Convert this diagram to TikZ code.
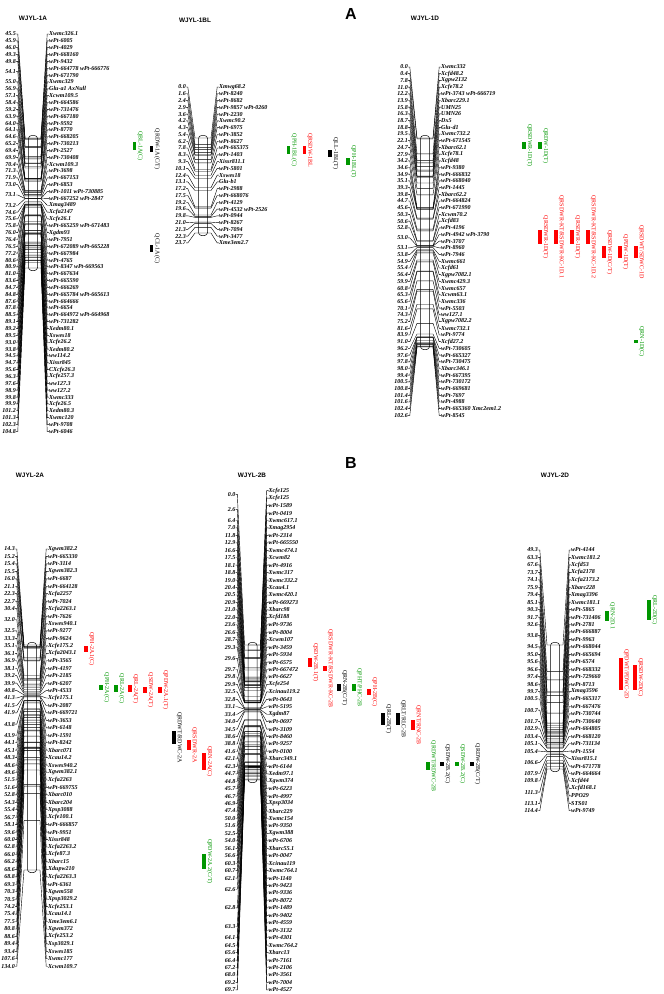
\documentclass[tikz,border=0pt]{standalone}
\usepackage{fontspec}
\setmainfont{Liberation Serif}
\setsansfont{Liberation Sans}
\usetikzlibrary{positioning}

\definecolor{qgreen}{RGB}{0,150,0}
\definecolor{qred}{RGB}{255,0,0}

\tikzset{
  cmlab/.style={font=\fontsize{6}{6}\selectfont\bfseries\itshape, anchor=east, inner sep=0pt},
  mklab/.style={font=\fontsize{6}{6}\selectfont\bfseries\itshape, anchor=west, inner sep=0pt},
  fan/.style={line width=0.42pt},
  chrom/.style={draw, fill=white, line width=0.5pt, rounded corners=3pt},
  ttl/.style={font=\sffamily\bfseries\fontsize{6.4}{6.4}\selectfont, inner sep=0pt},
  panel/.style={font=\sffamily\bfseries\fontsize{16}{16}\selectfont, inner sep=0pt},
  qtl/.style={font=\fontsize{6}{6}\selectfont, rotate=-90, anchor=south, inner sep=0.6pt},
}

% #1 id, #2 bar x, #3 first row y, #4 row step, #5 bar top, #6 bar bottom,
% #7 first cM, #8 last cM, #9 rows cM/left shift/marker
\newcommand{\chrmap}[9]{%
  \draw[chrom] (#2-4.5,#5-2.5) rectangle (#2+4.5,#6+2.5);
  \foreach \p/\s/\n [count=\i from 0] in {#9}{
    \pgfmathsetmacro{\yl}{#3+\i*#4}
    \pgfmathsetmacro{\yb}{#5+(\p-#7)/(#8-#7)*(#6-#5)}
    \node[mklab] (#1n\i) at (#2+16,\yl) {\n};
    \coordinate (#1b\i) at (#2+4.5,\yb);
    \draw[fan] (#1n\i.west) -- ++(-1.8,0) -- (#2+8,\yb) -- (#1b\i) -- ++(-9,0);
    \ifnum\s<9
      \pgfmathsetmacro{\yp}{\yl+\s*#4/2}
      \node[cmlab] (#1p\i) at (#2-17,\yp) {\p};
      \draw[fan] (#1p\i.east) -- ++(1.8,0) -- (#2-8,\yb) -- (#2-4.5,\yb);
    \fi
  }
}

% #1 id, #2 x, #3 top, #4 bottom, #5 colour, #6 label
\newcommand{\qtlbar}[6]{%
  \fill[#5] (#2-1.6,#3) rectangle (#2+1.6,#4);
  \node[qtl, text=#5] (#1) at (#2+2,{(#3+#4)/2}) {#6};
}

\begin{document}
\begin{tikzpicture}[x=1pt, y=-1pt]
  \useasboundingbox (0,0) rectangle (664,994);

  % --- Pannelli e titoli ---
  \node[panel] (pA) at (351,14) {A};
  \node[panel] (pB) at (351,463) {B};
  \node[ttl] (t1A) at (33,18) {WJYL-1A};
  \node[ttl] (t1BL) at (195,20) {WJYL-1BL};
  \node[ttl] (t1D) at (425,18) {WJYL-1D};
  \node[ttl] (t2A) at (30,475) {WJYL-2A};
  \node[ttl] (t2B) at (252,475) {WJYL-2B};
  \node[ttl] (t2D) at (555,475) {WJYL-2D};

  % --- WJYL-1A ---
  \chrmap{a}{33}{34}{6.85}{138}{268}{45.5}{104.8}{
    45.5/0/Xwmc326.1, 45.9/0/wPt-6005, 46.0/0/wPt-4029, 49.3/0/wPt-668160,
    49.8/0/wPt-9432, 54.1/1/{wPt-664778 wPt-666776}, 54.1/9/wPt-671790,
    55.0/0/Xwmc329, 56.9/0/{Glu-a1 AxNull}, 57.1/0/Xcwm109.5, 58.4/0/wPt-664586,
    59.2/0/wPt-731476, 63.9/0/wPt-667180, 64.0/0/wPt-9592, 64.1/0/wPt-8770,
    64.6/0/wPt-668205, 65.2/0/wPt-730213, 69.4/0/wPt-2527, 69.9/0/wPt-730408,
    70.4/0/Xcwm109.3, 71.3/0/wPt-3698, 71.9/0/wPt-667153, 73.0/0/wPt-6853,
    73.1/1/{wPt-1011 wPt-730885}, 73.1/9/{wPt-667252 wPt-2847}, 73.2/0/Xmag3489,
    74.6/0/Xcfa2147, 75.6/0/Xcfe26.1, 75.8/0/{wPt-665259 wPt-671483},
    76.0/0/Xgdm93, 76.4/0/wPt-7951, 76.5/0/{wPt-672089 wPt-665228},
    77.2/0/wPt-667984, 80.6/0/wPt-4765, 80.9/0/{wPt-8347 wPt-669563},
    81.0/0/wPt-667634, 83.6/0/wPt-665590, 84.7/0/wPt-666269,
    84.8/0/{wPt-665784 wPt-665613}, 87.6/0/wPt-664666, 87.8/0/wPt-6654,
    88.5/0/{wPt-664972 wPt-664968}, 89.1/0/wPt-731282, 89.2/0/Xedm80.1,
    89.5/0/Xswes18, 93.0/0/Xcfe26.2, 93.8/0/Xedm80.2, 94.5/0/ww114.2,
    94.7/0/Xissr845, 95.6/0/CXcfe26.3, 96.3/0/Xcfe257.3, 97.6/0/ww127.3,
    98.9/0/ww127.2, 99.8/0/Xwmc333, 99.9/0/Xcfe26.5, 101.2/0/Xedm80.3,
    101.3/0/Xwmc120, 102.3/0/wPt-9708, 104.8/0/wPt-6046}

  % --- WJYL-1BL ---
  \chrmap{b}{203}{87}{6.78}{138}{233}{0}{23.7}{
    0.0/0/Xmwg68.2, 1.6/0/wPt-8240, 2.4/0/wPt-8682, 2.9/0/{wPt-9857 wPt-0260},
    3.6/0/wPt-2230, 4.2/0/Xwmc90.2, 4.3/0/wPt-6975, 5.4/0/wPt-3852,
    6.2/0/wPt-8627, 7.8/0/wPt-665375, 8.3/0/wPt-1403, 9.3/0/Xissr811.1,
    10.1/0/wPt-5801, 12.4/0/Xswes18, 13.1/0/Glu-b1, 17.2/0/wPt-2988,
    17.5/0/wPt-668076, 19.2/0/wPt-4129, 19.6/0/{wPt-4532 wPt-2526},
    19.8/0/wPt-0944, 21.0/0/wPt-8267, 21.3/0/wPt-7094, 22.3/0/wPt-3477,
    23.7/0/Xme3em2.7}

  % --- WJYL-1D ---
  \chrmap{d}{425}{67}{6.7}{138}{347}{0}{102.6}{
    0.0/0/Xwmc332, 0.4/0/Xcfd48.2, 7.8/0/Xgpw2132, 11.0/0/Xcfe78.2,
    12.2/0/{wPt-3743 wPt-666719}, 13.9/0/Xbarc229.1, 15.8/0/UMN25, 16.3/0/UMN26,
    18.7/0/Dx5, 18.8/0/Glu-d1, 19.5/0/Xwmc732.2, 22.1/0/wPt-671545,
    24.7/0/Xbarc62.1, 27.9/0/Xcfe78.1, 34.2/0/Xcfd48, 34.6/0/wPt-9380,
    34.9/0/wPt-666832, 35.1/0/wPt-668040, 39.3/0/wPt-1445, 39.8/0/Xbarc62.2,
    44.7/0/wPt-664824, 45.6/0/wPt-671990, 50.3/0/Xcwm70.2, 50.6/0/Xcfd83,
    52.8/0/wPt-4196, 53.0/1/{wPt-4942 wPt-3790}, 53.0/9/wPt-3707,
    53.1/0/wPt-8960, 53.8/0/wPt-7946, 54.9/0/Xwmc661, 55.4/0/Xcfd61,
    56.4/0/Xgpw7082.1, 59.9/0/Xwmc429.3, 60.8/0/Xwmc657, 65.3/0/Xcwm63.1,
    65.6/0/Xwmc336, 70.1/0/wPt-5503, 74.3/0/ww127.1, 75.2/0/Xgpw7082.2,
    81.6/0/Xwmc732.1, 83.9/0/wPt-9774, 91.0/0/Xcfd27.2, 96.2/0/wPt-730605,
    97.6/0/wPt-665327, 97.8/0/wPt-730475, 98.0/0/Xbarc346.1, 99.4/0/wPt-667395,
    100.5/0/wPt-730172, 100.8/0/wPt-669681, 101.4/0/wPt-7697, 101.6/0/wPt-4988,
    102.4/0/{wPt-665360 Xmc2em1.2}, 102.6/0/wPt-8545}

  % --- WJYL-2A ---
  \chrmap{e}{32}{549}{7.45}{645}{870}{14.3}{134.0}{
    14.3/0/Xgwm382.2, 15.2/0/wPt-665330, 15.4/0/wPt-3114, 15.5/0/Xgwm382.3,
    16.0/0/wPt-6687, 21.1/0/wPt-664128, 22.3/0/Xcfa2257, 22.7/0/wPt-7024,
    30.4/0/Xcfa2263.1, 32.0/1/wPt-7626, 32.0/9/Xswes940.1, 32.5/0/wPt-9277,
    33.3/0/wPt-9624, 35.1/0/Xcfe175.2, 36.1/0/Xcfa2043.1, 36.9/0/wPt-3565,
    38.1/0/wPt-4197, 39.2/0/wPt-2185, 39.9/0/wPt-6207, 40.8/0/wPt-4533,
    41.3/0/Xcfe175.1, 41.5/0/wPt-2087, 41.9/0/wPt-669721, 43.8/1/wPt-3653,
    43.8/9/wPt-6148, 43.9/0/wPt-1591, 44.1/0/wPt-8242, 45.1/0/Xbarc071,
    48.3/0/Xcau14.2, 48.6/0/Xswes940.2, 49.6/0/Xgwm382.1, 51.5/0/Xcfa2263,
    51.6/0/wPt-669755, 52.8/0/Xbarc010, 54.3/0/Xbarc204, 55.4/0/Xpsp3088,
    56.7/0/Xcfe100.1, 58.1/0/wPt-666857, 59.6/0/wPt-9951, 60.0/0/Xissr848,
    62.8/0/Xcfa2263.2, 66.0/0/Xcfe87.3, 66.2/0/Xbarc15, 68.6/0/Xdupw210,
    68.8/0/Xcfa2263.3, 69.3/0/wPt-6361, 70.3/0/Xgwm558, 70.5/0/Xpsp3029.2,
    74.2/0/Xcfe253.1, 75.4/0/Xcau14.1, 77.5/0/Xme3em6.1, 80.8/0/Xgwm372,
    88.6/0/Xcfe253.2, 89.4/0/Xsp3029.1, 93.4/0/Xswes185, 107.6/0/Xwmc177,
    134.0/0/Xcwm109.7}

  % --- WJYL-2B ---
  \chrmap{f}{252.5}{490.7}{7.45}{645}{780}{0}{69.7}{
    0.0/1/Xcfe125, 0.0/9/Xcfe125, 2.6/1/wPt-1589, 2.6/9/wPt-0419,
    6.4/0/Xwmc617.1, 7.0/0/Xmag2954, 11.8/0/wPt-2314, 12.9/0/wPt-665550,
    16.6/0/Xwmc474.1, 17.5/0/Xcwm82, 18.1/0/wPt-4916, 18.8/0/Xwmc317,
    19.0/0/Xwmc332.2, 20.4/0/Xcau4.1, 20.5/0/Xwmc420.1, 20.9/0/wPt-669273,
    21.0/0/Xbarc98, 22.0/0/Xcfd188, 23.6/0/wPt-9736, 26.6/0/wPt-8004,
    28.7/0/Xcwm107, 29.3/0/wPt-3459, 29.6/1/wPt-5934, 29.6/9/wPt-6575,
    29.7/0/wPt-667472, 29.8/0/wPt-6627, 29.9/0/Xcfe254, 32.5/0/Xcinau119.2,
    32.8/0/wPt-0643, 33.1/0/wPt-5195, 33.4/0/Xgdm87, 34.0/0/wPt-0697,
    34.5/0/wPt-3109, 38.6/0/wPt-8460, 38.8/0/wPt-9257, 41.6/0/wPt-0100,
    42.1/0/Xbarc349.1, 42.3/0/wPt-6144, 44.7/0/Xedm97.1, 44.8/0/Xgwm374,
    45.7/0/wPt-6223, 46.7/0/wPt-4997, 46.9/0/Xpsp3034, 47.4/0/Xbarc229,
    50.0/0/Xwmc154, 51.6/0/wPt-9350, 52.5/0/Xgwm388, 54.0/0/wPt-6706,
    56.1/0/Xbarc55.1, 56.6/0/wPt-0047, 60.3/0/Xcinau119, 60.7/0/Xwmc764.1,
    62.1/0/wPt-1140, 62.6/1/wPt-9423, 62.6/9/wPt-9336, 62.8/2/wPt-8072,
    62.8/9/wPt-1489, 62.8/9/wPt-9402, 63.3/1/wPt-4559, 63.3/9/wPt-3132,
    64.1/0/wPt-4301, 64.5/0/Xwmc764.2, 65.6/0/Xbarc13, 66.4/0/wPt-7161,
    67.2/0/wPt-2106, 68.0/0/wPt-3561, 69.2/0/wPt-7004, 69.7/0/wPt-4527}

  % --- WJYL-2D ---
  \chrmap{g}{555}{550}{7.45}{645}{769}{49.3}{114.4}{
    49.3/0/wPt-4144, 63.3/0/Xwmc181.2, 67.6/0/Xcfd53, 73.7/0/Xcfa2178,
    74.1/0/Xcfa2173.2, 75.9/0/Xbarc228, 79.4/0/Xmag3396, 85.1/0/Xwmc181.1,
    90.3/0/wPt-5865, 91.7/0/wPt-731406, 92.6/0/wPt-2781, 93.8/1/wPt-666887,
    93.8/9/wPt-9963, 94.5/0/wPt-668044, 95.0/0/wPt-665694, 95.6/0/wPt-6574,
    96.6/0/wPt-668332, 97.4/0/wPt-729660, 98.6/0/wPt-8713, 99.7/0/Xmag3596,
    100.5/0/wPt-665317, 100.7/1/wPt-667476, 100.7/9/wPt-730744,
    101.7/0/wPt-730640, 102.9/0/wPt-664805, 103.4/0/wPt-668120,
    105.1/0/wPt-731134, 105.4/0/wPt-1554, 106.6/1/Xissr815.1,
    106.6/9/wPt-671778, 107.9/0/wPt-664664, 109.8/0/Xcfd44,
    111.3/1/Xcfd168.1, 111.3/9/PPO29, 113.1/0/STS01, 114.4/0/wPt-9749}

  % --- QTL gruppo A ---
  \qtlbar{q1}{134.5}{142}{150}{qgreen}{QBL-1A(C)}
  \qtlbar{q2}{151.5}{146}{152}{black}{QRDW-1A(C/T)}
  \qtlbar{q3}{151.5}{245}{252}{black}{QCL-1A(C)}
  \qtlbar{q4}{288.5}{146}{154}{qgreen}{QPH-1BL(C)}
  \qtlbar{q5}{304.5}{146}{154}{qred}{QRSDW-1BL}
  \qtlbar{q6}{330}{150}{157}{black}{QLL-1BL(T)}
  \qtlbar{q7}{348}{158}{165}{qgreen}{QPH-1BL(T)}
  \qtlbar{q8}{524}{142}{149}{qgreen}{QRSDWR-1D(T)}
  \qtlbar{q9}{540}{142}{149}{qgreen}{QRDW-1D(T)}
  \qtlbar{q10}{540}{230}{244}{qred}{QRSDWR-1D(T)}
  \qtlbar{q11}{556}{230}{244}{qred}{QRSDWR-KT/RSDWR-KC-1D.1}
  \qtlbar{q12}{572}{230}{244}{qred}{QRSDWR-1D(T)}
  \qtlbar{q13}{588}{230}{244}{qred}{QRSDWR-KT/RSDWR-KC-1D.2}
  \qtlbar{q14}{604}{246}{258}{qred}{QRSDW-1D(C/T)}
  \qtlbar{q15}{620}{246}{258}{qred}{QPDW-1D(T)}
  \qtlbar{q16}{636}{246}{258}{qred}{QRSDWT/SDWC-1D}
  \qtlbar{q17}{636}{340}{343}{qgreen}{QRN-1D(C)}

  % --- QTL gruppo B ---
  \qtlbar{q18}{86}{646}{652}{qred}{QPH-2A.1(C)}
  \qtlbar{q19}{101}{685}{690}{qgreen}{QPH-2A(C)}
  \qtlbar{q20}{116}{685}{692}{qgreen}{QRL-2A(C)}
  \qtlbar{q21}{130}{685}{692}{qred}{QRL-2A(T)}
  \qtlbar{q22}{145}{687}{693}{qred}{QSDW-2A(T)}
  \qtlbar{q23}{160}{687}{693}{qred}{QPDW-2A.1(T)}
  \qtlbar{q24}{174}{731}{744}{black}{QRDWT/RDWC-2A}
  \qtlbar{q25}{189}{740}{750}{qred}{QRSDWR-2A}
  \qtlbar{q26}{204}{753}{770}{qred}{QRN-2A(C)}
  \qtlbar{q27}{204}{854}{869}{qgreen}{QPDW-2A.2(C/T)}
  \qtlbar{q28}{310}{658}{667}{qred}{QSDW-2B.1(T)}
  \qtlbar{q29}{325}{666}{671}{qred}{QRSDWR-KT/RSDWR-KC-2B}
  \qtlbar{q30}{339}{684}{691}{black}{QRN-2B(C/T)}
  \qtlbar{q31}{354}{684}{691}{qgreen}{QPHT/PHC-2B}
  \qtlbar{q32}{369}{689}{695}{qred}{QPH-2B(C)}
  \qtlbar{q33}{383}{713}{725}{black}{QRL-2B(T)}
  \qtlbar{q34}{398}{713}{725}{black}{QRLT/RLC-2B}
  \qtlbar{q35}{413}{720}{730}{qred}{QRNT/RNC-2B}
  \qtlbar{q36}{428}{762}{770}{qgreen}{QRDWT/RDWC-2B}
  \qtlbar{q37}{442}{762}{766}{black}{QSDW-2B.2(C)}
  \qtlbar{q38}{457}{762}{766}{qgreen}{QSDW-2B.2(C)}
  \qtlbar{q39}{472}{762}{766}{black}{QRDW-2B(C/T)}
  \qtlbar{q40}{607}{611}{621}{qgreen}{QRN-2D.1}
  \qtlbar{q41}{621}{658}{690}{qred}{QPDWT/PDWC-2D}
  \qtlbar{q42}{635}{665}{690}{qred}{QRSDW-2D(C)}
  \qtlbar{q43}{649}{600}{620}{qgreen}{QRL-2D(C)}

\end{tikzpicture}
\end{document}
